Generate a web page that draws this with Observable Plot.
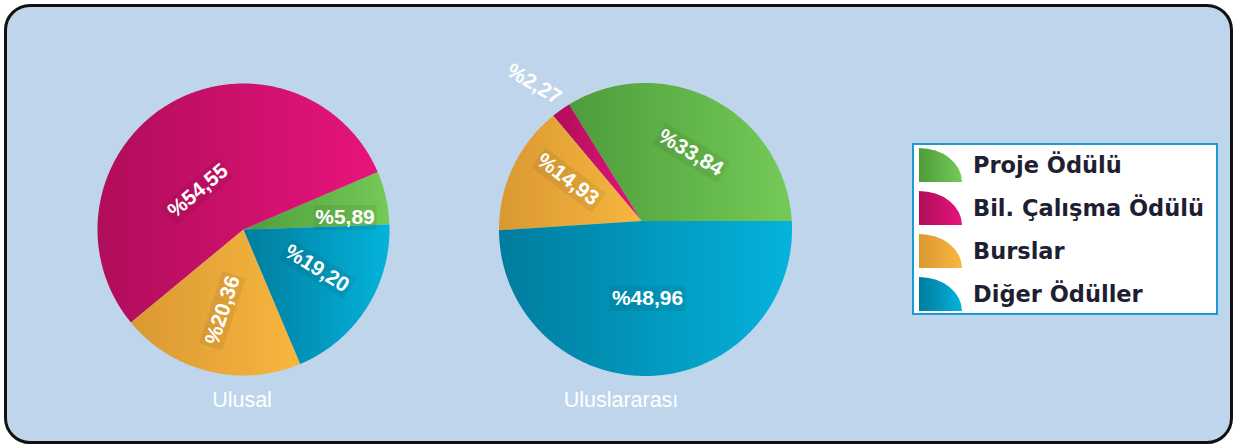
<!DOCTYPE html>
<html>
<head>
<meta charset="utf-8">
<script src="https://cdn.jsdelivr.net/npm/d3@7"></script>
<script src="https://cdn.jsdelivr.net/npm/@observablehq/plot@0.6"></script>
<style>
  html, body { margin: 0; padding: 0; background: #ffffff; }
  #page { position: relative; width: 1235px; height: 446px; overflow: hidden; }
  #frame { position: absolute; left: 4px; top: 4px; width: 1229px; height: 440px; box-sizing: border-box;
           border: 3px solid #111; border-radius: 26px; background: #bfd5eb; }
  .pie { position: absolute; }
  .title { position: absolute; width: 200px; text-align: center; color: #ffffff;
           font-family: "Liberation Sans", Arial, sans-serif; font-size: 21.5px; line-height: 21px; }
  #legend { position: absolute; left: 912px; top: 143px; width: 306px; height: 172px; box-sizing: border-box;
            border: 2px solid #1b9ad6; background: #ffffff; }
  .row { position: absolute; left: 5px; height: 34px; display: flex; align-items: center; }
  .row svg { display: block; margin-right: 11px; }
  .row span { font-family: "DejaVu Sans", sans-serif; font-weight: bold; font-size: 22.5px; color: #1f1f33; white-space: nowrap; }
</style>
</head>
<body>
<div id="page"><div id="frame"></div></div>
<script>
// ---- data ----
const categories = ["Proje Ödülü", "Bil. Çalışma Ödülü", "Burslar", "Diğer Ödüller"];
const ulusalValues = [5.89, 54.55, 20.36, 19.20];
const uluslararasiValues = [33.84, 2.27, 14.93, 48.96];
const valueLabels = v => "%" + v.toFixed(2).replace(".", ",");
const pieTitles = ["Ulusal", "Uluslararası"];
const colorsDark = ["#4d9d3b", "#af0d5a", "#da9832", "#007c9d"];
const colorsLight = ["#75ca57", "#e8147b", "#f7b73f", "#04b3dc"];

// ---- layout (not data) ----
// vx, vy: offset (px, y up) of the slices' common vertex from the circle centre
const pies = [
  { id: "ul", values: ulusalValues, title: pieTitles[0], cx: 243, cy: 229, r: 146, start: 2, vx: 0, vy: 0,
    labelPolar: [[6.7, 0.70], [139.7, 0.41], [255.5, 0.57], [332.2, 0.57]],
    labelRotate: [0, -40, -72, 32], titleX: 242 },
  { id: "int", values: uluslararasiValues, title: pieTitles[1], cx: 645, cy: 228.5, r: 146.5, start: 0, vx: -4, vy: 8.5,
    labelPolar: [[59.5, 0.61], [127.4, 1.25], [147.1, 0.63], [271.7, 0.47]],
    labelRotate: [31, 31, 37, 0], titleX: 621 }
];

const page = document.getElementById("page");
const S = 400;

pies.forEach(p => {
  const s0 = p.start * Math.PI / 180;
  const arcs = d3.pie().sort(null).value(d => d)
    .startAngle(Math.PI / 2 - s0).endAngle(Math.PI / 2 - s0 - 2 * Math.PI)(p.values);
  const V = { x: p.vx / p.r, y: p.vy / p.r };
  // point where a ray from the vertex at pie angle t meets the unit circle
  const rim = t => {
    const dx = Math.sin(t), dy = Math.cos(t);
    const b = dx * V.x + dy * V.y, c = V.x * V.x + V.y * V.y - 1;
    const k = -b + Math.sqrt(b * b - c);
    return { x: V.x + k * dx, y: V.y + k * dy };
  };

  const marks = [];
  marks.push(() => {
    const defs = d3.create("svg:defs");
    categories.forEach((c, i) => {
      const g = defs.append("linearGradient").attr("id", `g-${p.id}-${i}`)
        .attr("x1", 0).attr("x2", 1).attr("y1", 0).attr("y2", 0);
      g.append("stop").attr("offset", 0).attr("stop-color", colorsDark[i]);
      g.append("stop").attr("offset", 1).attr("stop-color", colorsLight[i]);
    });
    return defs.node();
  });

  arcs.forEach((a, i) => {
    const n = Math.max(4, Math.ceil(Math.abs(a.endAngle - a.startAngle) / (Math.PI / 360)));
    const pts = [{ x: V.x, y: V.y }];
    for (let k = 0; k <= n; k++) {
      pts.push(rim(a.startAngle + (a.endAngle - a.startAngle) * k / n));
    }
    pts.push({ x: V.x, y: V.y });
    marks.push(Plot.line(pts, { x: "x", y: "y", fill: `url(#g-${p.id}-${i})`, stroke: "none" }));
  });

  const labels = p.values.map((v, i) => {
    const [ang, rf] = p.labelPolar[i];
    const t = ang * Math.PI / 180;
    return { x: rf * Math.cos(t), y: rf * Math.sin(t), text: valueLabels(v), rotate: p.labelRotate[i], inside: rf < 1 };
  });
  // faint dark box behind the labels inside the pie
  marks.push(Plot.text(labels.filter(d => d.inside), {
    x: "x", y: "y", text: d => "\u2588".repeat(d.text.length), rotate: "rotate", fill: "#000",
    fillOpacity: 0.06, fontSize: 21, fontFamily: "DejaVu Sans Mono, monospace", dy: 1
  }));
  marks.push(Plot.text(labels, {
    x: "x", y: "y", text: "text", rotate: "rotate", fill: "white",
    fontSize: 21, fontWeight: "bold", fontFamily: "Liberation Sans, Arial, sans-serif"
  }));

  const h = S / 2 / p.r;
  const chart = Plot.plot({
    width: S, height: S, margin: 0,
    x: { domain: [-h, h], axis: null },
    y: { domain: [-h, h], axis: null },
    style: { background: "transparent", overflow: "visible" },
    marks
  });
  chart.classList.add("pie");
  chart.style.left = (p.cx - S / 2) + "px";
  chart.style.top = (p.cy - S / 2) + "px";
  chart.style.maxWidth = "none";
  page.appendChild(chart);

  const t = document.createElement("div");
  t.className = "title";
  t.textContent = p.title;
  t.style.left = (p.titleX - 100) + "px";
  t.style.top = "390px";
  page.appendChild(t);
});

// ---- legend ----
const legend = document.createElement("div");
legend.id = "legend";
categories.forEach((c, i) => {
  const row = document.createElement("div");
  row.className = "row";
  row.style.top = (3 + 43 * i) + "px";
  row.innerHTML = `<svg width="43" height="34" viewBox="0 0 43 34">
    <defs><linearGradient id="lg${i}" x1="0" x2="1" y1="0" y2="0">
      <stop offset="0" stop-color="${colorsDark[i]}"/><stop offset="1" stop-color="${colorsLight[i]}"/>
    </linearGradient></defs>
    <path d="M0,34 L0,0 A43,34 0 0 1 43,34 Z" fill="url(#lg${i})"/></svg><span></span>`;
  row.querySelector("span").textContent = c;
  legend.appendChild(row);
});
page.appendChild(legend);
</script>
</body>
</html>
